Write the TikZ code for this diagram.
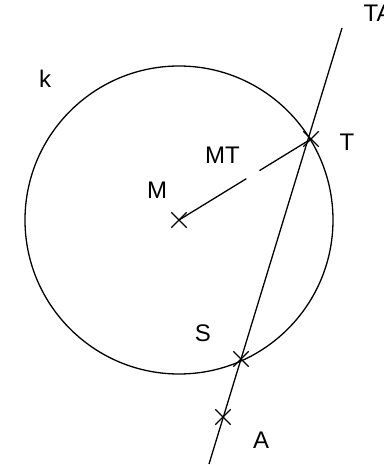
\documentclass[tikz,border=0pt]{standalone}
\usepackage{fontspec}
\setmainfont{Liberation Sans}
\usetikzlibrary{shapes.misc,calc}
\tikzset{
  crossmark/.style={cross out, draw, minimum size=14pt, inner sep=0pt},
  lbl/.style={anchor=base, inner sep=0pt, font=\fontsize{24}{28}\selectfont}
}

\begin{document}
\begin{tikzpicture}[x=1pt, y=-1pt, line width=1.3pt]
  \useasboundingbox (0,0) rectangle (383,465);
  \node[crossmark] (M) at (179,220) {};
  \node[crossmark] (T) at (311,139) {};
  \node[crossmark] (S) at (241,359) {};
  \node[crossmark] (A) at (223,417) {};
  \coordinate (a) at (209,464);
  \coordinate (b) at (342,28);
  \draw (M.center) circle[radius=154pt];
  \draw (a) -- (b);
  \draw (M.center) -- ($(M.center)!0.51!(T.center)$);
  \draw ($(M.center)!0.61!(T.center)$) -- (T.center);
  \node[lbl] (k) at (45,88) {k};
  \node[lbl] (Mlbl) at (157,198) {M};
  \node[lbl] (MTlbl) at (222.5,164) {MT};
  \node[lbl] (Tlbl) at (347,150) {T};
  \node[lbl] (Slbl) at (203,341.5) {S};
  \node[lbl] (Albl) at (261,448) {A};
  \node[lbl, anchor=base west] (TAlbl) at (363,22) {TA};
\end{tikzpicture}
\end{document}
